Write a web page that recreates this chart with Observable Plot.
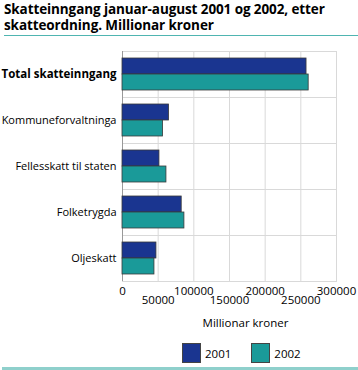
<!DOCTYPE html>
<html>
<head>
<meta charset="utf-8">
<script src="https://cdn.jsdelivr.net/npm/d3@7"></script>
<script src="https://cdn.jsdelivr.net/npm/@observablehq/plot@0.6"></script>
<style>
  html, body { margin: 0; padding: 0; background: #fff; }
  #wrap { position: relative; width: 358px; height: 370px; font-family: "Open Sans", sans-serif; color: #000; overflow: hidden; }
  #title { position: absolute; left: 4px; top: 0px; font-weight: bold; font-size: 13.5px; letter-spacing: -0.1px; }
  #title div { height: 16px; line-height: 18px; }
  #rule1 { position: absolute; left: 4px; width: 354px; top: 35px; height: 1px; background: #4fb5b1; }
  #rule2 { position: absolute; left: 2px; width: 356px; top: 367px; height: 3px; background: #8fd0cc; }
  #chart { position: absolute; left: 0; top: 40px; }
  #legend { position: absolute; top: 343px; left: 182px; display: flex; font-size: 11.5px; }
  .item { display: flex; align-items: center; margin-right: 20px; }
  .sw { width: 19px; height: 20px; border: 1px solid #444; box-sizing: border-box; margin-right: 4px; }
</style>
</head>
<body>
<div id="wrap">
  <div id="title"><div>Skatteinngang januar-august 2001 og 2002, etter</div><div>skatteordning. Millionar kroner</div></div>
  <div id="rule1"></div>
  <div id="chart"></div>
  <div id="legend"></div>
  <div id="rule2"></div>
</div>
<script>
const categories = ["Total skatteinngang", "Kommuneforvaltninga", "Fellesskatt til staten", "Folketrygda", "Oljeskatt"];
const years = ["2001", "2002"];
const values2001 = [258000, 65300, 51800, 83000, 47600];
const values2002 = [261000, 56900, 61600, 86800, 44800];
const colors = ["#1a3590", "#1a9a99"];
const ticksMajor = [0, 100000, 200000, 300000];
const ticksMinor = [50000, 150000, 250000];
const xLabel = "Millionar kroner";

const data = [];
categories.forEach((c, i) => {
  data.push({category: c, year: years[0], value: values2001[i]});
  data.push({category: c, year: years[1], value: values2002[i]});
});

const fmt = d => String(d);

const chart = Plot.plot({
  width: 358,
  height: 300,
  marginTop: 9,
  marginBottom: 57,
  marginLeft: 122,
  marginRight: 22,
  style: {fontFamily: "Open Sans, sans-serif", fontSize: "11px", color: "#000", background: "transparent"},
  x: {domain: [0, 300000]},
  fy: {domain: categories, padding: 0},
  y: {domain: years, paddingInner: 0, paddingOuter: 0.42},
  color: {domain: years, range: colors},
  marks: [
    Plot.gridX(ticksMajor.concat(ticksMinor), {stroke: "#d9d9d9", strokeOpacity: 1}),
    Plot.frame({stroke: "#d9d9d9"}),
    Plot.ruleX([0], {stroke: "#999"}),
    Plot.barX(data, {fy: "category", y: "year", x: "value", fill: "year", stroke: "#3a3a3a", strokeWidth: 0.8}),
    Plot.axisY({ticks: [], label: null}),
    Plot.axisFy({anchor: "left", ticks: categories.slice(0, 1), tickSize: 0, tickPadding: 6, label: null, fontWeight: "bold", fontSize: 11.5}),
    Plot.axisFy({anchor: "left", ticks: categories.slice(1), tickSize: 0, tickPadding: 6, label: null, fontSize: 11}),
    Plot.axisX({ticks: ticksMajor, tickFormat: fmt, tickSize: 0, tickPadding: 5, label: null, fontSize: 11.5}),
    Plot.axisX({ticks: ticksMinor, tickFormat: fmt, tickSize: 0, tickPadding: 5, dy: 9, label: null, fontSize: 11.5}),
    Plot.text([xLabel], {fy: [categories[categories.length - 1]], frameAnchor: "bottom", dy: 45, dx: 16, fontSize: 11.5})
  ]
});
document.getElementById("chart").appendChild(chart);

const legend = document.getElementById("legend");
years.forEach((y, i) => {
  const it = document.createElement("div");
  it.className = "item";
  const sw = document.createElement("div");
  sw.className = "sw";
  sw.style.background = colors[i];
  const t = document.createElement("span");
  t.textContent = y;
  it.appendChild(sw);
  it.appendChild(t);
  legend.appendChild(it);
});
</script>
</body>
</html>
